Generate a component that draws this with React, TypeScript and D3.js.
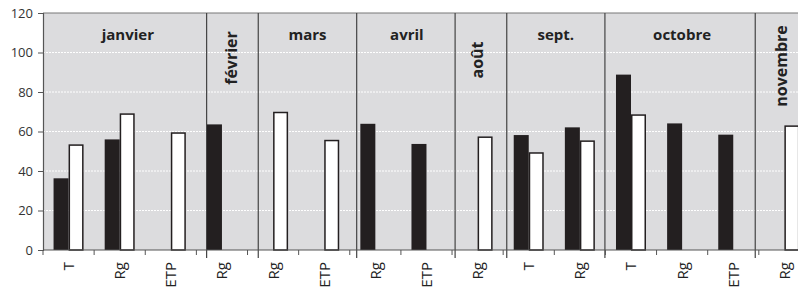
import * as d3 from "d3";
import { useEffect, useRef } from "react";

// one entry per x category
const categories = ["T", "Rg", "ETP", "Rg", "Rg", "ETP", "Rg", "ETP", "Rg", "T", "Rg", "T", "Rg", "ETP", "Rg"];
const blackValues: (number | null)[] = [36.3, 56.0, null, 63.6, null, null, 63.9, 53.7, null, 58.2, 62.1, 88.8, 64.1, 58.4, null];
const whiteValues: (number | null)[] = [53.5, 69.2, 59.6, null, 70.0, 55.8, null, null, 57.5, 49.5, 55.5, 68.7, null, null, 63.1];

// months: label, start position in category units, vertical label or not
const months = ["janvier", "février", "mars", "avril", "août", "sept.", "octobre", "novembre"];
const monthStarts = [0, 3.2, 4.21, 6.135, 8.06, 9.07, 10.99, 13.93];
const monthVertical = [false, true, false, false, true, false, false, true];
const monthLabelY = [35, 58, 35, 35, 60, 35, 35, 66];
const monthLabelDx = [3, -1, 0, 1, -4, 0, 2, -1];

const yTicks = [0, 20, 40, 60, 80, 100, 120];

const width = 798;
const height = 291;
const marginLeft = 43;
const marginTop = 13;
const plotBottom = 250;
const step = 51.13;
const plotRight = marginLeft + categories.length * step;
const font = "'Open Sans', sans-serif";

export default function App() {
  const ref = useRef<SVGSVGElement>(null);

  useEffect(() => {
    const svg = d3.select(ref.current);
    svg.selectAll("*").remove();

    const idx = d3.range(categories.length);
    const x = d3
      .scaleBand<number>()
      .domain(idx)
      .range([marginLeft, plotRight])
      .paddingInner(0.413)
      .paddingOuter(0.2065);
    const sub = d3.scaleBand<string>().domain(["black", "white"]).range([0, x.bandwidth()]);
    const xPos = d3.scaleLinear([0, categories.length], [marginLeft, plotRight]);
    const y = d3.scaleLinear([0, 120], [plotBottom, marginTop]);

    // background
    svg
      .append("rect")
      .attr("x", marginLeft)
      .attr("y", marginTop)
      .attr("width", plotRight - marginLeft)
      .attr("height", plotBottom - marginTop)
      .attr("fill", "#dcdcde");

    // gridlines
    svg
      .append("g")
      .selectAll("line")
      .data(yTicks.filter((t) => t > 0 && t < 120))
      .join("line")
      .attr("x1", marginLeft)
      .attr("x2", plotRight)
      .attr("y1", (d) => y(d))
      .attr("y2", (d) => y(d))
      .attr("stroke", "#ffffff")
      .attr("stroke-width", 1)
      .attr("stroke-dasharray", "2,1");

    // top border
    svg
      .append("line")
      .attr("x1", marginLeft)
      .attr("x2", plotRight)
      .attr("y1", y(120))
      .attr("y2", y(120))
      .attr("stroke", "#777");

    // month separators
    svg
      .append("g")
      .selectAll("line")
      .data(monthStarts.slice(1))
      .join("line")
      .attr("x1", (d) => xPos(d))
      .attr("x2", (d) => xPos(d))
      .attr("y1", marginTop)
      .attr("y2", plotBottom + 8)
      .attr("stroke", "#444")
      .attr("stroke-width", 1.2);

    // bars
    const bars = svg.append("g");
    bars
      .selectAll("rect.b")
      .data(idx.filter((i) => blackValues[i] != null))
      .join("rect")
      .attr("class", "b")
      .attr("x", (i) => x(i)! + sub("black")!)
      .attr("y", (i) => y(blackValues[i]!))
      .attr("width", sub.bandwidth())
      .attr("height", (i) => y(0) - y(blackValues[i]!))
      .attr("fill", "#231f20");
    bars
      .selectAll("rect.w")
      .data(idx.filter((i) => whiteValues[i] != null))
      .join("rect")
      .attr("class", "w")
      .attr("x", (i) => x(i)! + sub("white")! + 0.75)
      .attr("y", (i) => y(whiteValues[i]!) + 0.75)
      .attr("width", sub.bandwidth() - 1.5)
      .attr("height", (i) => y(0) - y(whiteValues[i]!) - 0.75)
      .attr("fill", "#ffffff")
      .attr("stroke", "#231f20")
      .attr("stroke-width", 1.5);

    // y axis
    const yAxis = svg
      .append("g")
      .attr("transform", `translate(${marginLeft},0)`)
      .call(d3.axisLeft(y).tickValues(yTicks).tickSize(5).tickPadding(5));
    yAxis.select(".domain").attr("stroke", "#555").attr("stroke-width", 1.2);
    yAxis.selectAll(".tick line").attr("stroke", "#555");
    yAxis
      .selectAll(".tick text")
      .attr("font-family", font)
      .attr("font-size", 13)
      .attr("fill", "#333");

    // x axis
    svg
      .append("line")
      .attr("x1", marginLeft)
      .attr("x2", plotRight)
      .attr("y1", plotBottom)
      .attr("y2", plotBottom)
      .attr("stroke", "#555")
      .attr("stroke-width", 1.2);
    svg
      .append("g")
      .selectAll("line")
      .data(d3.range(categories.length + 1))
      .join("line")
      .attr("x1", (d) => xPos(d))
      .attr("x2", (d) => xPos(d))
      .attr("y1", plotBottom)
      .attr("y2", plotBottom + 5)
      .attr("stroke", "#555");

    svg
      .append("g")
      .selectAll("text")
      .data(idx)
      .join("text")
      .attr("transform", (i) => `translate(${x(i)! + x.bandwidth() / 2 + 5.5},${plotBottom + 12}) rotate(-90)`)
      .attr("text-anchor", "end")
      .attr("font-family", font)
      .attr("font-size", 15)
      .attr("fill", "#222")
      .text((i) => categories[i]);

    // month labels
    const bounds = [...monthStarts, categories.length];
    svg
      .append("g")
      .selectAll("text")
      .data(d3.range(months.length))
      .join("text")
      .attr("transform", (m) => {
        const cx = (xPos(bounds[m]) + xPos(bounds[m + 1])) / 2 + monthLabelDx[m];
        return monthVertical[m]
          ? `translate(${cx},${monthLabelY[m]}) rotate(-90)`
          : `translate(${cx},${monthLabelY[m]})`;
      })
      .attr("text-anchor", "middle")
      .attr("dy", "0.35em")
      .attr("font-family", font)
      .attr("font-weight", "bold")
      .attr("font-size", (m) => (monthVertical[m] ? 16 : 15))
      .attr("fill", "#222")
      .text((m) => months[m]);
  }, []);

  return (
    <svg
      ref={ref}
      width={width}
      height={height}
      style={{ position: "absolute", left: 0, top: 0, background: "#fff" }}
    />
  );
}
